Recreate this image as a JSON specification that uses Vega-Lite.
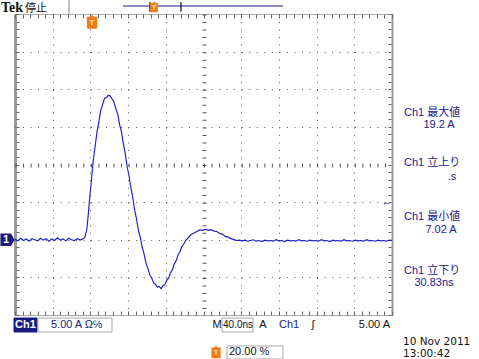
{
  "$schema": "https://vega.github.io/schema/vega-lite/v6.json",
  "width": 377,
  "height": 301,
  "autosize": {"type": "none"},
  "padding": {"left": 15, "top": 14, "right": 87, "bottom": 44},
  "background": "white",
  "config": {
    "view": {"stroke": null},
    "font": "Liberation Sans",
    "text": {"font": "Liberation Sans, Noto Sans CJK JP", "baseline": "middle", "fontSize": 11}
  },
  "resolve": {"axis": {"x": "independent", "y": "independent"}},
  "layer": [
    {
      "data": {"values": [
        {"t": -80, "v": 0.05}, {"t": -77, "v": -0.15}, {"t": -74, "v": 0.2}, {"t": -71, "v": -0.1}, {"t": -68, "v": 0.1},
        {"t": -65, "v": -0.2}, {"t": -62, "v": 0.15}, {"t": -59, "v": 0.0}, {"t": -56, "v": -0.15}, {"t": -53, "v": 0.2},
        {"t": -50, "v": -0.05}, {"t": -47, "v": 0.15}, {"t": -44, "v": -0.2}, {"t": -41, "v": 0.1}, {"t": -38, "v": -0.1},
        {"t": -35, "v": 0.25}, {"t": -32, "v": -0.05}, {"t": -29, "v": 0.1}, {"t": -26, "v": -0.15}, {"t": -23, "v": 0.2},
        {"t": -20, "v": 0.0}, {"t": -17, "v": -0.1}, {"t": -14, "v": 0.15}, {"t": -11, "v": -0.05}, {"t": -8, "v": 0.1},
        {"t": -6, "v": 0.3}, {"t": -4, "v": 1.2}, {"t": -2.5, "v": 3.0}, {"t": -1, "v": 5.2}, {"t": 1, "v": 7.8},
        {"t": 3, "v": 10.5}, {"t": 5, "v": 12.4}, {"t": 7, "v": 14.3}, {"t": 9, "v": 15.7}, {"t": 11, "v": 17.2},
        {"t": 13, "v": 18.0}, {"t": 15, "v": 18.8}, {"t": 17, "v": 18.9}, {"t": 19, "v": 19.2}, {"t": 21, "v": 19.1},
        {"t": 23, "v": 18.7}, {"t": 25, "v": 18.3}, {"t": 27, "v": 17.4}, {"t": 29, "v": 16.7}, {"t": 31, "v": 15.3},
        {"t": 33, "v": 14.3}, {"t": 35, "v": 12.7}, {"t": 37, "v": 11.4}, {"t": 39, "v": 9.7}, {"t": 41, "v": 8.5},
        {"t": 43, "v": 6.9}, {"t": 45, "v": 5.6}, {"t": 47, "v": 3.9}, {"t": 49, "v": 2.7}, {"t": 51, "v": 1.2},
        {"t": 53, "v": 0.3}, {"t": 55, "v": -1.0}, {"t": 57, "v": -1.9}, {"t": 59, "v": -3.1}, {"t": 61, "v": -3.8},
        {"t": 63, "v": -4.7}, {"t": 65, "v": -5.1}, {"t": 67, "v": -5.7}, {"t": 69, "v": -5.9}, {"t": 71, "v": -6.3},
        {"t": 73, "v": -6.2}, {"t": 75, "v": -6.5}, {"t": 77, "v": -6.1}, {"t": 79, "v": -6.0}, {"t": 81, "v": -5.4},
        {"t": 83, "v": -5.1}, {"t": 85, "v": -4.4}, {"t": 87, "v": -4.0}, {"t": 89, "v": -3.2}, {"t": 91, "v": -2.8},
        {"t": 93, "v": -2.0}, {"t": 95, "v": -1.6}, {"t": 97, "v": -0.9}, {"t": 99, "v": -0.6}, {"t": 101, "v": -0.1},
        {"t": 104, "v": 0.3}, {"t": 107, "v": 0.7}, {"t": 110, "v": 0.9}, {"t": 113, "v": 1.1}, {"t": 116, "v": 1.3},
        {"t": 119, "v": 1.25}, {"t": 122, "v": 1.4}, {"t": 125, "v": 1.25}, {"t": 128, "v": 1.35}, {"t": 131, "v": 1.15},
        {"t": 134, "v": 1.1}, {"t": 137, "v": 0.85}, {"t": 140, "v": 0.75}, {"t": 143, "v": 0.45}, {"t": 146, "v": 0.35},
        {"t": 149, "v": 0.15}, {"t": 152, "v": 0.05}, {"t": 155, "v": -0.1}, {"t": 158, "v": -0.05},
        {"t": 161, "v": -0.15}, {"t": 164, "v": -0.05}, {"t": 167, "v": -0.2}, {"t": 170, "v": -0.1}, {"t": 173, "v": 0.0},
        {"t": 176, "v": -0.2}, {"t": 179, "v": -0.1}, {"t": 182, "v": -0.25}, {"t": 185, "v": -0.05}, {"t": 188, "v": -0.15},
        {"t": 191, "v": -0.1}, {"t": 194, "v": -0.2}, {"t": 197, "v": 0.0}, {"t": 200, "v": -0.15}, {"t": 203, "v": -0.1},
        {"t": 206, "v": -0.25}, {"t": 209, "v": -0.05}, {"t": 212, "v": -0.15}, {"t": 215, "v": -0.1}, {"t": 218, "v": -0.2},
        {"t": 221, "v": 0.0}, {"t": 224, "v": -0.15}, {"t": 227, "v": -0.1}, {"t": 230, "v": -0.2}, {"t": 233, "v": -0.05},
        {"t": 236, "v": -0.15}, {"t": 239, "v": -0.1}, {"t": 242, "v": -0.2}, {"t": 245, "v": 0.0}, {"t": 248, "v": -0.15},
        {"t": 251, "v": -0.1}, {"t": 254, "v": -0.25}, {"t": 257, "v": -0.05}, {"t": 260, "v": -0.15}, {"t": 263, "v": -0.1},
        {"t": 266, "v": -0.2}, {"t": 269, "v": 0.0}, {"t": 272, "v": -0.15}, {"t": 275, "v": -0.1}, {"t": 278, "v": -0.2},
        {"t": 281, "v": -0.05}, {"t": 284, "v": -0.15}, {"t": 287, "v": -0.1}, {"t": 290, "v": -0.2}, {"t": 293, "v": 0.0},
        {"t": 296, "v": -0.15}, {"t": 299, "v": -0.1}, {"t": 302, "v": -0.2}, {"t": 305, "v": -0.05}, {"t": 308, "v": -0.15},
        {"t": 311, "v": -0.1}, {"t": 314, "v": -0.2}, {"t": 317, "v": -0.05}, {"t": 320, "v": -0.1}
      ]},
      "mark": {"type": "line", "color": "#1e1ec4", "strokeWidth": 1.15},
      "encoding": {
        "x": {
          "field": "t", "type": "quantitative",
          "scale": {"domain": [-80, 320], "nice": false, "zero": false},
          "axis": {
            "orient": "bottom", "title": null, "labels": false, "domain": false,
            "values": [-80,-72,-64,-56,-48,-40,-32,-24,-16,-8,0,8,16,24,32,40,48,56,64,72,80,88,96,104,112,120,128,136,144,152,160,168,176,184,192,200,208,216,224,232,240,248,256,264,272,280,288,296,304,312,320],
            "ticks": true, "tickSize": 4, "offset": -4, "tickColor": "#666",
            "grid": true,
            "gridOpacity": {"condition": {"test": "datum.value % 40 !== 0", "value": 0}, "value": 1},
            "gridColor": {"condition": {"test": "datum.value === -80 || datum.value === 320", "value": "#999999"}, "value": "#555555"},
            "gridDash": {"condition": {"test": "datum.value === -80 || datum.value === 320", "value": [400, 0]}, "value": [1, 6.525]},
            "gridWidth": {"condition": [
              {"test": "datum.value === -80", "value": 3},
              {"test": "datum.value === 320", "value": 2},
              {"test": "datum.value === 120", "value": 4}
            ], "value": 1}
          }
        },
        "y": {
          "field": "v", "type": "quantitative",
          "scale": {"domain": [-10, 30], "nice": false, "zero": false},
          "axis": {
            "orient": "left", "title": null, "labels": false, "domain": false,
            "values": [-10,-9,-8,-7,-6,-5,-4,-3,-2,-1,0,1,2,3,4,5,6,7,8,9,10,11,12,13,14,15,16,17,18,19,20,21,22,23,24,25,26,27,28,29,30],
            "ticks": true, "tickSize": 3, "offset": -4, "tickColor": "#666",
            "grid": true,
            "gridOpacity": {"condition": {"test": "datum.value % 5 !== 0", "value": 0}, "value": 1},
            "gridColor": "#555555",
            "gridDash": {"condition": {"test": "datum.value === -10 || datum.value === 30", "value": [1, 1]}, "value": [1, 6.54]},
            "gridWidth": {"condition": {"test": "datum.value === 10", "value": 4}, "value": 1}
          }
        }
      }
    },
    {
      "data": {"values": [
        {"label": "Ch1 最大値", "t": 332.7, "v": 16.84},
        {"label": "Ch1 立上り", "t": 332.7, "v": 10.2},
        {"label": "Ch1 最小値", "t": 332.7, "v": 3.02},
        {"label": "Ch1 立下り", "t": 332.7, "v": -4.15}
      ]},
      "mark": {"type": "text", "align": "left", "color": "#20208c"},
      "encoding": {
        "text": {"field": "label"},
        "x": {
          "field": "t", "type": "quantitative",
          "scale": {"domain": [-80, 320], "nice": false, "zero": false},
          "axis": {
            "orient": "top", "title": null, "labels": false, "domain": false, "grid": false,
            "values": [-80,-72,-64,-56,-48,-40,-32,-24,-16,-8,0,8,16,24,32,40,48,56,64,72,80,88,96,104,112,120,128,136,144,152,160,168,176,184,192,200,208,216,224,232,240,248,256,264,272,280,288,296,304,312,320],
            "ticks": true, "tickSize": 4, "offset": -4, "tickColor": "#666"
          }
        },
        "y": {
          "field": "v", "type": "quantitative",
          "scale": {"domain": [-10, 30], "nice": false, "zero": false},
          "axis": {
            "orient": "right", "title": null, "labels": false, "domain": false, "grid": false,
            "values": [-10,-9,-8,-7,-6,-5,-4,-3,-2,-1,0,1,2,3,4,5,6,7,8,9,10,11,12,13,14,15,16,17,18,19,20,21,22,23,24,25,26,27,28,29,30],
            "ticks": true, "tickSize": 3, "offset": -4, "tickColor": "#666"
          }
        }
      }
    },
    {
      "data": {"values": [
        {"label": "19.2 A", "t": 369.9, "v": 15.25},
        {"label": ".s", "t": 383.7, "v": 8.34},
        {"label": "7.02 A", "t": 372.0, "v": 1.3},
        {"label": "30.83ns", "t": 364.6, "v": -5.75},
        {"label": "←", "t": 314.7, "v": 5.0}
      ]},
      "mark": {"type": "text", "align": "center", "color": "#20208c"},
      "encoding": {
        "text": {"field": "label"},
        "x": {"field": "t", "type": "quantitative", "scale": {"domain": [-80, 320], "nice": false, "zero": false}, "axis": null},
        "y": {"field": "v", "type": "quantitative", "scale": {"domain": [-10, 30], "nice": false, "zero": false}, "axis": null}
      }
    },
    {
      "data": {"values": [
        {"t": 34.6, "t2": 204.4, "v": 31.06, "v2": 31.06, "c": "navy"},
        {"t": 63.2, "t2": 63.2, "v": 31.6, "v2": 30.3, "c": "black"},
        {"t": 96.1, "t2": 96.1, "v": 31.6, "v2": 30.3, "c": "black"},
        {"t": -22.7, "t2": -22.7, "v": 31.86, "v2": 30.0, "c": "gray"}
      ]},
      "mark": {"type": "rule", "strokeWidth": 1.2},
      "encoding": {
        "x": {"field": "t", "type": "quantitative", "scale": {"domain": [-80, 320], "nice": false, "zero": false}, "axis": null},
        "x2": {"field": "t2"},
        "y": {"field": "v", "type": "quantitative", "scale": {"domain": [-10, 30], "nice": false, "zero": false}, "axis": null},
        "y2": {"field": "v2"},
        "color": {"field": "c", "type": "nominal", "scale": {"domain": ["navy", "black", "gray"], "range": ["#1a1a80", "#111111", "#999999"]}, "legend": null}
      }
    },
    {
      "data": {"values": [
        {"t": -81.06, "t2": -56.66, "v": -10.4, "v2": -12.26, "c": "fill"},
        {"t": -55.6, "t2": 22.92, "v": -10.4, "v2": -12.26, "c": "box"},
        {"t": 139.63, "t2": 172.52, "v": -10.4, "v2": -12.26, "c": "box"},
        {"t": 144.93, "t2": 204.35, "v": -14.12, "v2": -15.85, "c": "box"}
      ]},
      "mark": {"type": "rect", "strokeWidth": 1},
      "encoding": {
        "x": {"field": "t", "type": "quantitative", "scale": {"domain": [-80, 320], "nice": false, "zero": false}, "axis": null},
        "x2": {"field": "t2"},
        "y": {"field": "v", "type": "quantitative", "scale": {"domain": [-10, 30], "nice": false, "zero": false}, "axis": null},
        "y2": {"field": "v2"},
        "fill": {"field": "c", "type": "nominal", "scale": {"domain": ["fill", "box"], "range": ["#1a1a80", "#ffffff"]}, "legend": null},
        "stroke": {"field": "c", "type": "nominal", "scale": {"domain": ["fill", "box"], "range": ["#1a1a80", "#a8a8a8"]}, "legend": null}
      }
    },
    {
      "data": {"values": [
        {"t": -87.96, "v": 0}
      ]},
      "mark": {"type": "point", "filled": true, "opacity": 1, "color": "#1a1a80", "size": 200, "shape": "M-1,-0.9 L0.5,-0.9 L1,0 L0.5,0.9 L-1,0.9 Z"},
      "encoding": {
        "x": {"field": "t", "type": "quantitative", "scale": {"domain": [-80, 320], "nice": false, "zero": false}, "axis": null},
        "y": {"field": "v", "type": "quantitative", "scale": {"domain": [-10, 30], "nice": false, "zero": false}, "axis": null}
      }
    },
    {
      "data": {"values": [
        {"t": 1.7, "v": 28.94, "s": 190},
        {"t": 67.5, "v": 30.93, "s": 110},
        {"t": 133.3, "v": -14.92, "s": 150}
      ]},
      "mark": {"type": "point", "filled": true, "opacity": 1, "color": "#f07c18", "shape": "M0,-1 L0.35,-0.75 L0.75,-0.75 L0.75,0.8 Q0.75,1 0.55,1 L-0.55,1 Q-0.75,1 -0.75,0.8 L-0.75,-0.75 L-0.35,-0.75 Z"},
      "encoding": {
        "x": {"field": "t", "type": "quantitative", "scale": {"domain": [-80, 320], "nice": false, "zero": false}, "axis": null},
        "y": {"field": "v", "type": "quantitative", "scale": {"domain": [-10, 30], "nice": false, "zero": false}, "axis": null},
        "size": {"field": "s", "type": "quantitative", "scale": null}
      }
    },
    {
      "data": {"values": [
        {"label": "T", "t": 1.7, "v": 28.74},
        {"label": "T", "t": 67.5, "v": 30.8},
        {"label": "T", "t": 133.3, "v": -15.05}
      ]},
      "mark": {"type": "text", "align": "center", "color": "#ffe8cc", "fontSize": 8, "fontWeight": "bold"},
      "encoding": {
        "text": {"field": "label"},
        "x": {"field": "t", "type": "quantitative", "scale": {"domain": [-80, 320], "nice": false, "zero": false}, "axis": null},
        "y": {"field": "v", "type": "quantitative", "scale": {"domain": [-10, 30], "nice": false, "zero": false}, "axis": null}
      }
    },
    {
      "data": {"values": [
        {"label": "1", "t": -89.55, "v": 0},
        {"label": "Ch1", "t": -68.86, "v": -11.33}
      ]},
      "mark": {"type": "text", "align": "center", "color": "#ffffff", "fontWeight": "bold", "fontSize": 11},
      "encoding": {
        "text": {"field": "label"},
        "x": {"field": "t", "type": "quantitative", "scale": {"domain": [-80, 320], "nice": false, "zero": false}, "axis": null},
        "y": {"field": "v", "type": "quantitative", "scale": {"domain": [-10, 30], "nice": false, "zero": false}, "axis": null}
      }
    },
    {
      "data": {"values": [
        {"label": "Tek", "t": -94.85, "v": 30.75}
      ]},
      "mark": {"type": "text", "align": "left", "color": "#111111", "font": "Liberation Serif", "fontWeight": "bold", "fontSize": 14},
      "encoding": {
        "text": {"field": "label"},
        "x": {"field": "t", "type": "quantitative", "scale": {"domain": [-80, 320], "nice": false, "zero": false}, "axis": null},
        "y": {"field": "v", "type": "quantitative", "scale": {"domain": [-10, 30], "nice": false, "zero": false}, "axis": null}
      }
    },
    {
      "data": {"values": [
        {"label": "停止", "t": -69.39, "v": 30.68}
      ]},
      "mark": {"type": "text", "align": "left", "color": "#111111", "font": "Noto Sans CJK JP", "fontSize": 11},
      "encoding": {
        "text": {"field": "label"},
        "x": {"field": "t", "type": "quantitative", "scale": {"domain": [-80, 320], "nice": false, "zero": false}, "axis": null},
        "y": {"field": "v", "type": "quantitative", "scale": {"domain": [-10, 30], "nice": false, "zero": false}, "axis": null}
      }
    },
    {
      "data": {"values": [
        {"label": "5.00 A  Ω℅", "t": -41.8, "v": -11.33, "c": "navy"},
        {"label": "Ch1", "t": 200.11, "v": -11.33, "c": "navy"},
        {"label": "20.00 %", "t": 147.06, "v": -14.92, "c": "black"}
      ]},
      "mark": {"type": "text", "align": "left"},
      "encoding": {
        "text": {"field": "label"},
        "x": {"field": "t", "type": "quantitative", "scale": {"domain": [-80, 320], "nice": false, "zero": false}, "axis": null},
        "y": {"field": "v", "type": "quantitative", "scale": {"domain": [-10, 30], "nice": false, "zero": false}, "axis": null},
        "color": {"field": "c", "type": "nominal", "scale": {"domain": ["navy", "black"], "range": ["#20208c", "#111111"]}, "legend": null}
      }
    },
    {
      "data": {"values": [
        {"label": "10 Nov 2011", "t": 331.68, "v": -13.55},
        {"label": "13:00:42", "t": 331.68, "v": -15.18}
      ]},
      "mark": {"type": "text", "align": "left", "color": "#111111", "font": "DejaVu Sans", "fontSize": 10.5},
      "encoding": {
        "text": {"field": "label"},
        "x": {"field": "t", "type": "quantitative", "scale": {"domain": [-80, 320], "nice": false, "zero": false}, "axis": null},
        "y": {"field": "v", "type": "quantitative", "scale": {"domain": [-10, 30], "nice": false, "zero": false}, "axis": null}
      }
    },
    {
      "data": {"values": [
        {"label": "40.0ns", "t": 140.7, "v": -11.33}
      ]},
      "mark": {"type": "text", "align": "left", "color": "#111111", "fontSize": 10},
      "encoding": {
        "text": {"field": "label"},
        "x": {"field": "t", "type": "quantitative", "scale": {"domain": [-80, 320], "nice": false, "zero": false}, "axis": null},
        "y": {"field": "v", "type": "quantitative", "scale": {"domain": [-10, 30], "nice": false, "zero": false}, "axis": null}
      }
    },
    {
      "data": {"values": [
        {"label": "M", "t": 134.32, "v": -11.33},
        {"label": "A", "t": 183.1, "v": -11.33},
        {"label": "ʃ", "t": 236.18, "v": -11.33}
      ]},
      "mark": {"type": "text", "align": "center", "color": "#111111"},
      "encoding": {
        "text": {"field": "label"},
        "x": {"field": "t", "type": "quantitative", "scale": {"domain": [-80, 320], "nice": false, "zero": false}, "axis": null},
        "y": {"field": "v", "type": "quantitative", "scale": {"domain": [-10, 30], "nice": false, "zero": false}, "axis": null}
      }
    },
    {
      "data": {"values": [
        {"label": "5.00 A", "t": 317.88, "v": -11.33}
      ]},
      "mark": {"type": "text", "align": "right", "color": "#111111"},
      "encoding": {
        "text": {"field": "label"},
        "x": {"field": "t", "type": "quantitative", "scale": {"domain": [-80, 320], "nice": false, "zero": false}, "axis": null},
        "y": {"field": "v", "type": "quantitative", "scale": {"domain": [-10, 30], "nice": false, "zero": false}, "axis": null}
      }
    }
  ]
}
